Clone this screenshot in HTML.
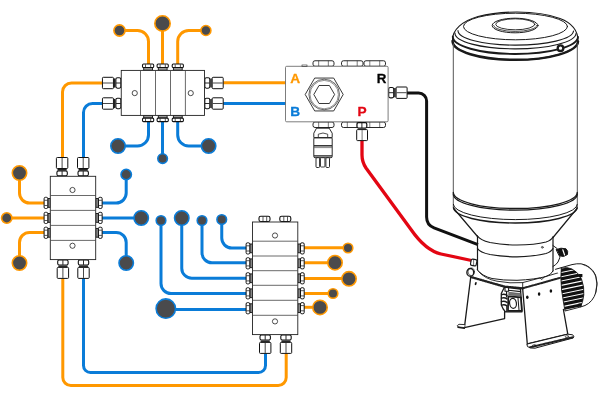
<!DOCTYPE html>
<html lang="en">
<head>
<meta charset="utf-8">
<title>Dual-line lubrication system diagram</title>
<style>
html,body{margin:0;padding:0;background:#fff;}
body{width:600px;height:400px;overflow:hidden;font-family:"Liberation Sans",sans-serif;}
svg{display:block;}
</style>
</head>
<body>
<svg width="600" height="400" viewBox="0 0 600 400" style="will-change:transform">
<rect x="0" y="0" width="600" height="400" fill="#fff"/>
<path d="M119.5 30.5 H137.5 A11 11 0 0 1 148.5 41.5 V66" stroke="#FF9800" stroke-width="3.0" fill="none"/>
<path d="M162.5 23.4 V66" stroke="#FF9800" stroke-width="3.0" fill="none"/>
<path d="M205.75 30.5 H188.7 A11 11 0 0 0 177.7 41.5 V66" stroke="#FF9800" stroke-width="3.0" fill="none"/>
<path d="M148.5 120 V135 A11 11 0 0 1 137.5 146 H118" stroke="#0A7CD8" stroke-width="3.0" fill="none"/>
<path d="M162.5 120 V158.5" stroke="#0A7CD8" stroke-width="3.0" fill="none"/>
<path d="M177.7 120 V135 A11 11 0 0 0 188.7 146 H208.6" stroke="#0A7CD8" stroke-width="3.0" fill="none"/>
<path d="M104 83 H71.5 A9 9 0 0 0 62.5 92 V158" stroke="#FF9800" stroke-width="3.0" fill="none"/>
<path d="M104 103.5 H92.5 A9 9 0 0 0 83.5 112.5 V158" stroke="#0A7CD8" stroke-width="3.0" fill="none"/>
<path d="M222 82.7 H286" stroke="#FF9800" stroke-width="3.0" fill="none"/>
<path d="M222 103.5 H286" stroke="#0A7CD8" stroke-width="3.0" fill="none"/>
<path d="M19.5 173 V193 A10 10 0 0 0 29.5 203 H45" stroke="#FF9800" stroke-width="3.0" fill="none"/>
<path d="M6.75 218 H45" stroke="#FF9800" stroke-width="3.0" fill="none"/>
<path d="M19.5 263 V242.5 A10 10 0 0 1 29.5 232.5 H45" stroke="#FF9800" stroke-width="3.0" fill="none"/>
<path d="M126.2 174.5 V193 A10 10 0 0 1 116.2 203 H100" stroke="#0A7CD8" stroke-width="3.0" fill="none"/>
<path d="M141 218 H100" stroke="#0A7CD8" stroke-width="3.0" fill="none"/>
<path d="M126.2 263 V242.5 A10 10 0 0 0 116.2 232.5 H100" stroke="#0A7CD8" stroke-width="3.0" fill="none"/>
<path d="M62.8 276 V377.5 A8 8 0 0 0 70.8 385.5 H278.2 A8 8 0 0 0 286.2 377.5 V352" stroke="#FF9800" stroke-width="3.0" fill="none"/>
<path d="M83.5 276 V365.5 A7 7 0 0 0 90.5 372.5 H258.5 A7 7 0 0 0 265.5 365.5 V352" stroke="#0A7CD8" stroke-width="3.0" fill="none"/>
<path d="M221.75 219.5 V238 A10 10 0 0 0 231.75 248 H248" stroke="#0A7CD8" stroke-width="3.0" fill="none"/>
<path d="M202 220.5 V252.8 A10 10 0 0 0 212 262.8 H248" stroke="#0A7CD8" stroke-width="3.0" fill="none"/>
<path d="M181.75 218 V268.2 A10 10 0 0 0 191.75 278.2 H248" stroke="#0A7CD8" stroke-width="3.0" fill="none"/>
<path d="M161 220.5 V283.5 A10 10 0 0 0 171 293.5 H248" stroke="#0A7CD8" stroke-width="3.0" fill="none"/>
<path d="M166 309.4 H248" stroke="#0A7CD8" stroke-width="3.0" fill="none"/>
<path d="M302 247.8 H348" stroke="#FF9800" stroke-width="3.0" fill="none"/>
<path d="M302 262.7 H335" stroke="#FF9800" stroke-width="3.0" fill="none"/>
<path d="M302 278.5 H348.75" stroke="#FF9800" stroke-width="3.0" fill="none"/>
<path d="M302 293.5 H333" stroke="#FF9800" stroke-width="3.0" fill="none"/>
<path d="M302 307.3 H320" stroke="#FF9800" stroke-width="3.0" fill="none"/>
<path d="M362 138 V155 Q362 162 366 168 L411 229.5 C419 241 428 251 441 254 L471.5 260.5" stroke="#E30613" stroke-width="3.3" fill="none"/>
<path d="M405 93 H418.6 A8 8 0 0 1 426.6 101 V217 Q426.6 225 434 227.8 L478 244.6" stroke="#111111" stroke-width="3.0" fill="none"/>
<circle cx="119.5" cy="30.5" r="5.6000000000000005" fill="#4a4a4c" stroke="#FF9800" stroke-width="1.6"/>
<circle cx="162.5" cy="23.4" r="7.7" fill="#4a4a4c" stroke="#FF9800" stroke-width="1.6"/>
<circle cx="205.9" cy="30.5" r="5.0" fill="#4a4a4c" stroke="#FF9800" stroke-width="1.6"/>
<circle cx="118" cy="146" r="7.2" fill="#4a4a4c" stroke="#0A7CD8" stroke-width="1.6"/>
<circle cx="162.6" cy="158.6" r="4.8" fill="#4a4a4c" stroke="#0A7CD8" stroke-width="1.6"/>
<circle cx="208.6" cy="146" r="7.2" fill="#4a4a4c" stroke="#0A7CD8" stroke-width="1.6"/>
<circle cx="19.5" cy="173" r="7.2" fill="#4a4a4c" stroke="#FF9800" stroke-width="1.6"/>
<circle cx="6.75" cy="218" r="5.2" fill="#4a4a4c" stroke="#FF9800" stroke-width="1.6"/>
<circle cx="19.5" cy="263" r="7.2" fill="#4a4a4c" stroke="#FF9800" stroke-width="1.6"/>
<circle cx="126.2" cy="174.5" r="5.2" fill="#4a4a4c" stroke="#0A7CD8" stroke-width="1.6"/>
<circle cx="141.2" cy="218" r="7.2" fill="#4a4a4c" stroke="#0A7CD8" stroke-width="1.6"/>
<circle cx="126.2" cy="263" r="7.2" fill="#4a4a4c" stroke="#0A7CD8" stroke-width="1.6"/>
<circle cx="221.75" cy="219.5" r="4.8" fill="#4a4a4c" stroke="#0A7CD8" stroke-width="1.6"/>
<circle cx="202" cy="220.5" r="4.8" fill="#4a4a4c" stroke="#0A7CD8" stroke-width="1.6"/>
<circle cx="181.75" cy="218" r="7.2" fill="#4a4a4c" stroke="#0A7CD8" stroke-width="1.6"/>
<circle cx="161" cy="220.5" r="4.8" fill="#4a4a4c" stroke="#0A7CD8" stroke-width="1.6"/>
<circle cx="165.8" cy="308.6" r="9.7" fill="#4a4a4c" stroke="#0A7CD8" stroke-width="1.6"/>
<circle cx="348" cy="248" r="4.8" fill="#4a4a4c" stroke="#FF9800" stroke-width="1.6"/>
<circle cx="335" cy="262.7" r="7.2" fill="#4a4a4c" stroke="#FF9800" stroke-width="1.6"/>
<circle cx="349" cy="278.8" r="7.2" fill="#4a4a4c" stroke="#FF9800" stroke-width="1.6"/>
<circle cx="333" cy="293.5" r="4.8" fill="#4a4a4c" stroke="#FF9800" stroke-width="1.6"/>
<circle cx="320" cy="307.4" r="7.2" fill="#4a4a4c" stroke="#FF9800" stroke-width="1.6"/>
<rect x="143.7" y="67.55" width="8.8" height="2.7" rx="0" fill="#999" stroke="#111" stroke-width="0.9"/>
<rect x="142.5" y="64.05" width="11.2" height="3.5" rx="1.1" fill="#fff" stroke="#111" stroke-width="1.1"/>
<line x1="145.5" y1="64.35" x2="145.5" y2="67.25" stroke="#111" stroke-width="0.7"/>
<line x1="150.7" y1="64.35" x2="150.7" y2="67.25" stroke="#111" stroke-width="0.7"/>
<rect x="143.7" y="115.4" width="8.8" height="2.7" rx="0" fill="#999" stroke="#111" stroke-width="0.9"/>
<rect x="142.5" y="118.10000000000001" width="11.2" height="3.5" rx="1.1" fill="#fff" stroke="#111" stroke-width="1.1"/>
<line x1="145.5" y1="118.4" x2="145.5" y2="121.30000000000001" stroke="#111" stroke-width="0.7"/>
<line x1="150.7" y1="118.4" x2="150.7" y2="121.30000000000001" stroke="#111" stroke-width="0.7"/>
<rect x="158.29999999999998" y="67.55" width="8.8" height="2.7" rx="0" fill="#999" stroke="#111" stroke-width="0.9"/>
<rect x="157.1" y="64.05" width="11.2" height="3.5" rx="1.1" fill="#fff" stroke="#111" stroke-width="1.1"/>
<line x1="160.1" y1="64.35" x2="160.1" y2="67.25" stroke="#111" stroke-width="0.7"/>
<line x1="165.29999999999998" y1="64.35" x2="165.29999999999998" y2="67.25" stroke="#111" stroke-width="0.7"/>
<rect x="158.29999999999998" y="115.4" width="8.8" height="2.7" rx="0" fill="#999" stroke="#111" stroke-width="0.9"/>
<rect x="157.1" y="118.10000000000001" width="11.2" height="3.5" rx="1.1" fill="#fff" stroke="#111" stroke-width="1.1"/>
<line x1="160.1" y1="118.4" x2="160.1" y2="121.30000000000001" stroke="#111" stroke-width="0.7"/>
<line x1="165.29999999999998" y1="118.4" x2="165.29999999999998" y2="121.30000000000001" stroke="#111" stroke-width="0.7"/>
<rect x="173.4" y="67.55" width="8.8" height="2.7" rx="0" fill="#999" stroke="#111" stroke-width="0.9"/>
<rect x="172.20000000000002" y="64.05" width="11.2" height="3.5" rx="1.1" fill="#fff" stroke="#111" stroke-width="1.1"/>
<line x1="175.20000000000002" y1="64.35" x2="175.20000000000002" y2="67.25" stroke="#111" stroke-width="0.7"/>
<line x1="180.4" y1="64.35" x2="180.4" y2="67.25" stroke="#111" stroke-width="0.7"/>
<rect x="173.4" y="115.4" width="8.8" height="2.7" rx="0" fill="#999" stroke="#111" stroke-width="0.9"/>
<rect x="172.20000000000002" y="118.10000000000001" width="11.2" height="3.5" rx="1.1" fill="#fff" stroke="#111" stroke-width="1.1"/>
<line x1="175.20000000000002" y1="118.4" x2="175.20000000000002" y2="121.30000000000001" stroke="#111" stroke-width="0.7"/>
<line x1="180.4" y1="118.4" x2="180.4" y2="121.30000000000001" stroke="#111" stroke-width="0.7"/>
<rect x="115.85" y="77.8" width="5.0" height="10.4" rx="1.6" fill="#fff" stroke="#111" stroke-width="1.1"/>
<line x1="120.65" y1="83" x2="116.05" y2="83" stroke="#111" stroke-width="0.9"/>
<line x1="114.65" y1="78.4" x2="114.65" y2="87.6" stroke="#222" stroke-width="1.5"/>
<rect x="102.45" y="77.3" width="11.0" height="11.4" rx="0.9" fill="#fff" stroke="#111" stroke-width="1.0"/>
<line x1="102.95" y1="83" x2="112.95" y2="83" stroke="#333" stroke-width="0.9"/>
<rect x="204.8" y="77.8" width="5.0" height="10.4" rx="1.6" fill="#fff" stroke="#111" stroke-width="1.1"/>
<line x1="205.0" y1="83" x2="209.6" y2="83" stroke="#111" stroke-width="0.9"/>
<line x1="211.0" y1="78.4" x2="211.0" y2="87.6" stroke="#222" stroke-width="1.5"/>
<rect x="212.20000000000002" y="77.3" width="11.0" height="11.4" rx="0.9" fill="#fff" stroke="#111" stroke-width="1.0"/>
<line x1="212.70000000000002" y1="83" x2="222.70000000000002" y2="83" stroke="#333" stroke-width="0.9"/>
<rect x="115.85" y="98.3" width="5.0" height="10.4" rx="1.6" fill="#fff" stroke="#111" stroke-width="1.1"/>
<line x1="120.65" y1="103.5" x2="116.05" y2="103.5" stroke="#111" stroke-width="0.9"/>
<line x1="114.65" y1="98.9" x2="114.65" y2="108.1" stroke="#222" stroke-width="1.5"/>
<rect x="102.45" y="97.8" width="11.0" height="11.4" rx="0.9" fill="#fff" stroke="#111" stroke-width="1.0"/>
<line x1="102.95" y1="103.5" x2="112.95" y2="103.5" stroke="#333" stroke-width="0.9"/>
<rect x="204.8" y="98.3" width="5.0" height="10.4" rx="1.6" fill="#fff" stroke="#111" stroke-width="1.1"/>
<line x1="205.0" y1="103.5" x2="209.6" y2="103.5" stroke="#111" stroke-width="0.9"/>
<line x1="211.0" y1="98.9" x2="211.0" y2="108.1" stroke="#222" stroke-width="1.5"/>
<rect x="212.20000000000002" y="97.8" width="11.0" height="11.4" rx="0.9" fill="#fff" stroke="#111" stroke-width="1.0"/>
<line x1="212.70000000000002" y1="103.5" x2="222.70000000000002" y2="103.5" stroke="#333" stroke-width="0.9"/>
<rect x="121.25" y="70.4" width="83.2" height="45.0" rx="0" fill="#fff" stroke="#222" stroke-width="0.9"/>
<line x1="140.5" y1="70.4" x2="140.5" y2="115.4" stroke="#444" stroke-width="0.8"/>
<line x1="155.5" y1="70.4" x2="155.5" y2="115.4" stroke="#444" stroke-width="0.8"/>
<line x1="170.5" y1="70.4" x2="170.5" y2="115.4" stroke="#444" stroke-width="0.8"/>
<line x1="185.4" y1="70.4" x2="185.4" y2="115.4" stroke="#444" stroke-width="0.8"/>
<circle cx="134.75" cy="93.1" r="2.6" fill="#fff" stroke="#222" stroke-width="0.8"/>
<circle cx="190.75" cy="93.1" r="2.6" fill="#fff" stroke="#222" stroke-width="0.8"/>
<rect x="56.9" y="170.9" width="10.4" height="5.0" rx="1.6" fill="#fff" stroke="#111" stroke-width="1.1"/>
<line x1="62.1" y1="175.70000000000002" x2="62.1" y2="171.10000000000002" stroke="#111" stroke-width="0.9"/>
<line x1="57.5" y1="169.70000000000002" x2="66.7" y2="169.70000000000002" stroke="#222" stroke-width="1.5"/>
<rect x="56.4" y="157.5" width="11.4" height="11.0" rx="0.9" fill="#fff" stroke="#111" stroke-width="1.0"/>
<line x1="62.1" y1="158.0" x2="62.1" y2="168.0" stroke="#333" stroke-width="0.9"/>
<rect x="78.0" y="170.9" width="10.4" height="5.0" rx="1.6" fill="#fff" stroke="#111" stroke-width="1.1"/>
<line x1="83.2" y1="175.70000000000002" x2="83.2" y2="171.10000000000002" stroke="#111" stroke-width="0.9"/>
<line x1="78.60000000000001" y1="169.70000000000002" x2="87.8" y2="169.70000000000002" stroke="#222" stroke-width="1.5"/>
<rect x="77.5" y="157.5" width="11.4" height="11.0" rx="0.9" fill="#fff" stroke="#111" stroke-width="1.0"/>
<line x1="83.2" y1="158.0" x2="83.2" y2="168.0" stroke="#333" stroke-width="0.9"/>
<rect x="57.699999999999996" y="260.0" width="10.4" height="5.0" rx="1.6" fill="#fff" stroke="#111" stroke-width="1.1"/>
<line x1="62.9" y1="260.20000000000005" x2="62.9" y2="264.8" stroke="#111" stroke-width="0.9"/>
<line x1="58.3" y1="266.20000000000005" x2="67.5" y2="266.20000000000005" stroke="#222" stroke-width="1.5"/>
<rect x="57.199999999999996" y="267.40000000000003" width="11.4" height="11.0" rx="0.9" fill="#fff" stroke="#111" stroke-width="1.0"/>
<line x1="62.9" y1="267.90000000000003" x2="62.9" y2="277.90000000000003" stroke="#333" stroke-width="0.9"/>
<rect x="78.3" y="260.0" width="10.4" height="5.0" rx="1.6" fill="#fff" stroke="#111" stroke-width="1.1"/>
<line x1="83.5" y1="260.20000000000005" x2="83.5" y2="264.8" stroke="#111" stroke-width="0.9"/>
<line x1="78.9" y1="266.20000000000005" x2="88.1" y2="266.20000000000005" stroke="#222" stroke-width="1.5"/>
<rect x="77.8" y="267.40000000000003" width="11.4" height="11.0" rx="0.9" fill="#fff" stroke="#111" stroke-width="1.0"/>
<line x1="83.5" y1="267.90000000000003" x2="83.5" y2="277.90000000000003" stroke="#333" stroke-width="0.9"/>
<rect x="47.8" y="198.5" width="2.7" height="8.8" rx="0" fill="#888" stroke="#111" stroke-width="0.9"/>
<rect x="44.099999999999994" y="197.3" width="3.7" height="11.2" rx="1.4" fill="#fff" stroke="#111" stroke-width="1.0"/>
<line x1="44.39999999999999" y1="200.3" x2="47.49999999999999" y2="200.3" stroke="#111" stroke-width="0.7"/>
<line x1="44.39999999999999" y1="205.5" x2="47.49999999999999" y2="205.5" stroke="#111" stroke-width="0.7"/>
<rect x="95.75" y="198.5" width="2.7" height="8.8" rx="0" fill="#888" stroke="#111" stroke-width="0.9"/>
<rect x="98.45" y="197.3" width="3.7" height="11.2" rx="1.4" fill="#fff" stroke="#111" stroke-width="1.0"/>
<line x1="98.75" y1="200.3" x2="101.85000000000001" y2="200.3" stroke="#111" stroke-width="0.7"/>
<line x1="98.75" y1="205.5" x2="101.85000000000001" y2="205.5" stroke="#111" stroke-width="0.7"/>
<rect x="47.8" y="213.5" width="2.7" height="8.8" rx="0" fill="#888" stroke="#111" stroke-width="0.9"/>
<rect x="44.099999999999994" y="212.3" width="3.7" height="11.2" rx="1.4" fill="#fff" stroke="#111" stroke-width="1.0"/>
<line x1="44.39999999999999" y1="215.3" x2="47.49999999999999" y2="215.3" stroke="#111" stroke-width="0.7"/>
<line x1="44.39999999999999" y1="220.5" x2="47.49999999999999" y2="220.5" stroke="#111" stroke-width="0.7"/>
<rect x="95.75" y="213.5" width="2.7" height="8.8" rx="0" fill="#888" stroke="#111" stroke-width="0.9"/>
<rect x="98.45" y="212.3" width="3.7" height="11.2" rx="1.4" fill="#fff" stroke="#111" stroke-width="1.0"/>
<line x1="98.75" y1="215.3" x2="101.85000000000001" y2="215.3" stroke="#111" stroke-width="0.7"/>
<line x1="98.75" y1="220.5" x2="101.85000000000001" y2="220.5" stroke="#111" stroke-width="0.7"/>
<rect x="47.8" y="228.4" width="2.7" height="8.8" rx="0" fill="#888" stroke="#111" stroke-width="0.9"/>
<rect x="44.099999999999994" y="227.20000000000002" width="3.7" height="11.2" rx="1.4" fill="#fff" stroke="#111" stroke-width="1.0"/>
<line x1="44.39999999999999" y1="230.20000000000002" x2="47.49999999999999" y2="230.20000000000002" stroke="#111" stroke-width="0.7"/>
<line x1="44.39999999999999" y1="235.4" x2="47.49999999999999" y2="235.4" stroke="#111" stroke-width="0.7"/>
<rect x="95.75" y="228.4" width="2.7" height="8.8" rx="0" fill="#888" stroke="#111" stroke-width="0.9"/>
<rect x="98.45" y="227.20000000000002" width="3.7" height="11.2" rx="1.4" fill="#fff" stroke="#111" stroke-width="1.0"/>
<line x1="98.75" y1="230.20000000000002" x2="101.85000000000001" y2="230.20000000000002" stroke="#111" stroke-width="0.7"/>
<line x1="98.75" y1="235.4" x2="101.85000000000001" y2="235.4" stroke="#111" stroke-width="0.7"/>
<rect x="50.3" y="176.3" width="45.4" height="83.3" rx="0" fill="#fff" stroke="#222" stroke-width="0.9"/>
<line x1="50.5" y1="195.5" x2="95.75" y2="195.5" stroke="#444" stroke-width="0.8"/>
<line x1="50.5" y1="210.4" x2="95.75" y2="210.4" stroke="#444" stroke-width="0.8"/>
<line x1="50.5" y1="225.4" x2="95.75" y2="225.4" stroke="#444" stroke-width="0.8"/>
<line x1="50.5" y1="240.4" x2="95.75" y2="240.4" stroke="#444" stroke-width="0.8"/>
<circle cx="72.5" cy="190" r="2.6" fill="#fff" stroke="#222" stroke-width="0.8"/>
<circle cx="72.5" cy="245.75" r="2.6" fill="#fff" stroke="#222" stroke-width="0.8"/>
<rect x="259.0" y="216.3" width="11" height="5.2" rx="1.8" fill="#fff" stroke="#111" stroke-width="1.1"/>
<line x1="263.0" y1="216.6" x2="263.0" y2="221.2" stroke="#111" stroke-width="0.7"/>
<line x1="266.7" y1="216.6" x2="266.7" y2="221.2" stroke="#111" stroke-width="0.7"/>
<rect x="279.8" y="216.3" width="11" height="5.2" rx="1.8" fill="#fff" stroke="#111" stroke-width="1.1"/>
<line x1="283.8" y1="216.6" x2="283.8" y2="221.2" stroke="#111" stroke-width="0.7"/>
<line x1="287.5" y1="216.6" x2="287.5" y2="221.2" stroke="#111" stroke-width="0.7"/>
<rect x="260.0" y="335.0" width="10.4" height="5.0" rx="1.6" fill="#fff" stroke="#111" stroke-width="1.1"/>
<line x1="265.2" y1="335.20000000000005" x2="265.2" y2="339.8" stroke="#111" stroke-width="0.9"/>
<line x1="260.59999999999997" y1="341.20000000000005" x2="269.8" y2="341.20000000000005" stroke="#222" stroke-width="1.5"/>
<rect x="259.5" y="342.40000000000003" width="11.4" height="11.0" rx="0.9" fill="#fff" stroke="#111" stroke-width="1.0"/>
<line x1="265.2" y1="342.90000000000003" x2="265.2" y2="352.90000000000003" stroke="#333" stroke-width="0.9"/>
<rect x="280.8" y="335.0" width="10.4" height="5.0" rx="1.6" fill="#fff" stroke="#111" stroke-width="1.1"/>
<line x1="286" y1="335.20000000000005" x2="286" y2="339.8" stroke="#111" stroke-width="0.9"/>
<line x1="281.4" y1="341.20000000000005" x2="290.6" y2="341.20000000000005" stroke="#222" stroke-width="1.5"/>
<rect x="280.3" y="342.40000000000003" width="11.4" height="11.0" rx="0.9" fill="#fff" stroke="#111" stroke-width="1.0"/>
<line x1="286" y1="342.90000000000003" x2="286" y2="352.90000000000003" stroke="#333" stroke-width="0.9"/>
<rect x="249.8" y="244.0" width="2.7" height="8.8" rx="0" fill="#888" stroke="#111" stroke-width="0.9"/>
<rect x="246.10000000000002" y="242.8" width="3.7" height="11.2" rx="1.4" fill="#fff" stroke="#111" stroke-width="1.0"/>
<line x1="246.40000000000003" y1="245.8" x2="249.50000000000003" y2="245.8" stroke="#111" stroke-width="0.7"/>
<line x1="246.40000000000003" y1="251.0" x2="249.50000000000003" y2="251.0" stroke="#111" stroke-width="0.7"/>
<rect x="297.8" y="244.0" width="2.7" height="8.8" rx="0" fill="#888" stroke="#111" stroke-width="0.9"/>
<rect x="300.5" y="242.8" width="3.7" height="11.2" rx="1.4" fill="#fff" stroke="#111" stroke-width="1.0"/>
<line x1="300.8" y1="245.8" x2="303.9" y2="245.8" stroke="#111" stroke-width="0.7"/>
<line x1="300.8" y1="251.0" x2="303.9" y2="251.0" stroke="#111" stroke-width="0.7"/>
<rect x="249.8" y="258.90000000000003" width="2.7" height="8.8" rx="0" fill="#888" stroke="#111" stroke-width="0.9"/>
<rect x="246.10000000000002" y="257.7" width="3.7" height="11.2" rx="1.4" fill="#fff" stroke="#111" stroke-width="1.0"/>
<line x1="246.40000000000003" y1="260.7" x2="249.50000000000003" y2="260.7" stroke="#111" stroke-width="0.7"/>
<line x1="246.40000000000003" y1="265.90000000000003" x2="249.50000000000003" y2="265.90000000000003" stroke="#111" stroke-width="0.7"/>
<rect x="297.8" y="258.90000000000003" width="2.7" height="8.8" rx="0" fill="#888" stroke="#111" stroke-width="0.9"/>
<rect x="300.5" y="257.7" width="3.7" height="11.2" rx="1.4" fill="#fff" stroke="#111" stroke-width="1.0"/>
<line x1="300.8" y1="260.7" x2="303.9" y2="260.7" stroke="#111" stroke-width="0.7"/>
<line x1="300.8" y1="265.90000000000003" x2="303.9" y2="265.90000000000003" stroke="#111" stroke-width="0.7"/>
<rect x="249.8" y="273.90000000000003" width="2.7" height="8.8" rx="0" fill="#888" stroke="#111" stroke-width="0.9"/>
<rect x="246.10000000000002" y="272.7" width="3.7" height="11.2" rx="1.4" fill="#fff" stroke="#111" stroke-width="1.0"/>
<line x1="246.40000000000003" y1="275.7" x2="249.50000000000003" y2="275.7" stroke="#111" stroke-width="0.7"/>
<line x1="246.40000000000003" y1="280.90000000000003" x2="249.50000000000003" y2="280.90000000000003" stroke="#111" stroke-width="0.7"/>
<rect x="297.8" y="273.90000000000003" width="2.7" height="8.8" rx="0" fill="#888" stroke="#111" stroke-width="0.9"/>
<rect x="300.5" y="272.7" width="3.7" height="11.2" rx="1.4" fill="#fff" stroke="#111" stroke-width="1.0"/>
<line x1="300.8" y1="275.7" x2="303.9" y2="275.7" stroke="#111" stroke-width="0.7"/>
<line x1="300.8" y1="280.90000000000003" x2="303.9" y2="280.90000000000003" stroke="#111" stroke-width="0.7"/>
<rect x="249.8" y="288.90000000000003" width="2.7" height="8.8" rx="0" fill="#888" stroke="#111" stroke-width="0.9"/>
<rect x="246.10000000000002" y="287.7" width="3.7" height="11.2" rx="1.4" fill="#fff" stroke="#111" stroke-width="1.0"/>
<line x1="246.40000000000003" y1="290.7" x2="249.50000000000003" y2="290.7" stroke="#111" stroke-width="0.7"/>
<line x1="246.40000000000003" y1="295.90000000000003" x2="249.50000000000003" y2="295.90000000000003" stroke="#111" stroke-width="0.7"/>
<rect x="297.8" y="288.90000000000003" width="2.7" height="8.8" rx="0" fill="#888" stroke="#111" stroke-width="0.9"/>
<rect x="300.5" y="287.7" width="3.7" height="11.2" rx="1.4" fill="#fff" stroke="#111" stroke-width="1.0"/>
<line x1="300.8" y1="290.7" x2="303.9" y2="290.7" stroke="#111" stroke-width="0.7"/>
<line x1="300.8" y1="295.90000000000003" x2="303.9" y2="295.90000000000003" stroke="#111" stroke-width="0.7"/>
<rect x="249.8" y="303.8" width="2.7" height="8.8" rx="0" fill="#888" stroke="#111" stroke-width="0.9"/>
<rect x="246.10000000000002" y="302.59999999999997" width="3.7" height="11.2" rx="1.4" fill="#fff" stroke="#111" stroke-width="1.0"/>
<line x1="246.40000000000003" y1="305.59999999999997" x2="249.50000000000003" y2="305.59999999999997" stroke="#111" stroke-width="0.7"/>
<line x1="246.40000000000003" y1="310.8" x2="249.50000000000003" y2="310.8" stroke="#111" stroke-width="0.7"/>
<rect x="297.8" y="303.8" width="2.7" height="8.8" rx="0" fill="#888" stroke="#111" stroke-width="0.9"/>
<rect x="300.5" y="302.59999999999997" width="3.7" height="11.2" rx="1.4" fill="#fff" stroke="#111" stroke-width="1.0"/>
<line x1="300.8" y1="305.59999999999997" x2="303.9" y2="305.59999999999997" stroke="#111" stroke-width="0.7"/>
<line x1="300.8" y1="310.8" x2="303.9" y2="310.8" stroke="#111" stroke-width="0.7"/>
<rect x="252.5" y="222" width="45.3" height="112.6" rx="0" fill="#fff" stroke="#222" stroke-width="0.9"/>
<line x1="252.5" y1="241.2" x2="297.8" y2="241.2" stroke="#444" stroke-width="0.8"/>
<line x1="252.5" y1="256" x2="297.8" y2="256" stroke="#444" stroke-width="0.8"/>
<line x1="252.5" y1="270.7" x2="297.8" y2="270.7" stroke="#444" stroke-width="0.8"/>
<line x1="252.5" y1="285.3" x2="297.8" y2="285.3" stroke="#444" stroke-width="0.8"/>
<line x1="252.5" y1="300.3" x2="297.8" y2="300.3" stroke="#444" stroke-width="0.8"/>
<line x1="252.5" y1="315.3" x2="297.8" y2="315.3" stroke="#444" stroke-width="0.8"/>
<circle cx="275" cy="235.5" r="2.6" fill="#fff" stroke="#222" stroke-width="0.8"/>
<circle cx="275" cy="321.4" r="2.6" fill="#fff" stroke="#222" stroke-width="0.8"/>
<rect x="313" y="60.75" width="21" height="5.5" rx="2" fill="#fff" stroke="#111" stroke-width="0.9"/>
<line x1="318.67" y1="60.75" x2="318.67" y2="66.25" stroke="#222" stroke-width="0.6"/>
<line x1="328.33" y1="60.75" x2="328.33" y2="66.25" stroke="#222" stroke-width="0.6"/>
<rect x="313" y="122" width="21" height="5.5" rx="2" fill="#fff" stroke="#111" stroke-width="0.9"/>
<line x1="318.67" y1="122" x2="318.67" y2="127.5" stroke="#222" stroke-width="0.6"/>
<line x1="328.33" y1="122" x2="328.33" y2="127.5" stroke="#222" stroke-width="0.6"/>
<rect x="341.5" y="60.75" width="21.5" height="5.5" rx="2" fill="#fff" stroke="#111" stroke-width="0.9"/>
<line x1="347.305" y1="60.75" x2="347.305" y2="66.25" stroke="#222" stroke-width="0.6"/>
<line x1="357.195" y1="60.75" x2="357.195" y2="66.25" stroke="#222" stroke-width="0.6"/>
<rect x="341.5" y="122" width="21.5" height="5.5" rx="2" fill="#fff" stroke="#111" stroke-width="0.9"/>
<line x1="347.305" y1="122" x2="347.305" y2="127.5" stroke="#222" stroke-width="0.6"/>
<line x1="357.195" y1="122" x2="357.195" y2="127.5" stroke="#222" stroke-width="0.6"/>
<rect x="364" y="60.75" width="21.5" height="5.5" rx="2" fill="#fff" stroke="#111" stroke-width="0.9"/>
<line x1="369.805" y1="60.75" x2="369.805" y2="66.25" stroke="#222" stroke-width="0.6"/>
<line x1="379.695" y1="60.75" x2="379.695" y2="66.25" stroke="#222" stroke-width="0.6"/>
<rect x="364" y="122" width="21.5" height="5.5" rx="2" fill="#fff" stroke="#111" stroke-width="0.9"/>
<line x1="369.805" y1="122" x2="369.805" y2="127.5" stroke="#222" stroke-width="0.6"/>
<line x1="379.695" y1="122" x2="379.695" y2="127.5" stroke="#222" stroke-width="0.6"/>
<rect x="388.7" y="87.5" width="5.0" height="10.4" rx="1.6" fill="#fff" stroke="#111" stroke-width="1.1"/>
<line x1="388.90000000000003" y1="92.7" x2="393.5" y2="92.7" stroke="#111" stroke-width="0.9"/>
<line x1="394.90000000000003" y1="88.10000000000001" x2="394.90000000000003" y2="97.3" stroke="#222" stroke-width="1.5"/>
<rect x="396.1" y="87.0" width="11.0" height="11.4" rx="0.9" fill="#fff" stroke="#111" stroke-width="1.0"/>
<line x1="396.6" y1="92.7" x2="406.6" y2="92.7" stroke="#333" stroke-width="0.9"/>
<path d="M316.5 128.2 H329.2 L332.2 133.2 V137.5 H313.8 V133.2 Z" fill="#fff" stroke="#111" stroke-width="0.9"/>
<path d="M318.3 137.3 V134.2 Q323 131.8 327.7 134.2 V137.3" fill="none" stroke="#222" stroke-width="0.8"/>
<rect x="313.8" y="137.5" width="18.4" height="20.2" rx="1.2" fill="#fff" stroke="#111" stroke-width="0.9"/>
<line x1="314" y1="138.2" x2="332" y2="138.2" stroke="#555" stroke-width="0.8"/>
<line x1="314" y1="145.8" x2="332" y2="145.8" stroke="#222" stroke-width="1.4"/>
<line x1="314" y1="147.6" x2="332" y2="147.6" stroke="#555" stroke-width="0.7"/>
<line x1="314" y1="155.9" x2="332" y2="155.9" stroke="#222" stroke-width="1.3"/>
<rect x="320.5" y="157.7" width="4.4" height="9.3" rx="0.8" fill="#fff" stroke="#111" stroke-width="0.8"/>
<rect x="316.0" y="157.7" width="3.6" height="9.8" rx="1" fill="#fff" stroke="#111" stroke-width="0.9"/>
<rect x="325.9" y="157.7" width="3.6" height="9.8" rx="1" fill="#fff" stroke="#111" stroke-width="0.9"/>
<rect x="285.5" y="66.3" width="102.6" height="55.5" rx="1.2" fill="#fff" stroke="#666" stroke-width="0.85"/>
<rect x="302" y="65" width="5" height="1.3" rx="0" fill="#fff" stroke="#222" stroke-width="0.6"/>
<rect x="357" y="122.7" width="9.8" height="5.4" rx="1.5" fill="#fff" stroke="#111" stroke-width="1.2"/>
<line x1="361.9" y1="123" x2="361.9" y2="128" stroke="#111" stroke-width="0.9"/>
<line x1="358" y1="129" x2="366" y2="129" stroke="#444" stroke-width="0.9"/>
<rect x="356.7" y="129.6" width="10.8" height="11" rx="0.8" fill="#fff" stroke="#111" stroke-width="1.0"/>
<line x1="362.1" y1="130" x2="362.1" y2="140.3" stroke="#555" stroke-width="0.8"/>
<polygon points="343.20,94.50 333.70,110.95 314.70,110.95 305.20,94.50 314.70,78.05 333.70,78.05" fill="#fff" stroke="#222" stroke-width="0.9"/>
<circle cx="324.2" cy="94.5" r="15.3" fill="#fff" stroke="#222" stroke-width="0.7"/>
<circle cx="324.2" cy="94.6" r="14.2" fill="#fff" stroke="#222" stroke-width="0.5"/>
<polygon points="334.60,94.50 329.40,103.51 319.00,103.51 313.80,94.50 319.00,85.49 329.40,85.49" fill="#fff" stroke="#222" stroke-width="0.9"/>
<text x="295.2" y="83.4" fill="#FF9800" font-family="Liberation Sans, sans-serif" font-weight="bold" font-size="13.7" stroke="#FF9800" stroke-width="0.3" stroke-linejoin="round" text-anchor="middle">A</text>
<text x="295.2" y="115.9" fill="#0A7CD8" font-family="Liberation Sans, sans-serif" font-weight="bold" font-size="13.7" stroke="#0A7CD8" stroke-width="0.3" stroke-linejoin="round" text-anchor="middle">B</text>
<text x="381.6" y="82.7" fill="#000" font-family="Liberation Sans, sans-serif" font-weight="bold" font-size="13.3" stroke="#000" stroke-width="0.3" stroke-linejoin="round" text-anchor="middle">R</text>
<text x="362" y="115.9" fill="#E30613" font-family="Liberation Sans, sans-serif" font-weight="bold" font-size="13.7" stroke="#E30613" stroke-width="0.3" stroke-linejoin="round" text-anchor="middle">P</text>
<g stroke-linecap="round" stroke-linejoin="round">
<path d="M452.5 40 C452.5 30 462 21 478 16.5 C492 12.8 505 12 517 12 C532 12 548 14 560 18.5 C572 23 578 31 578 41 A62.75 19.5 0 0 1 452.5 40 Z" fill="#fff" stroke="#1a1a1a" stroke-width="1.1" />
<path d="M452.8 36.5 A62.6 17.2 0 0 0 578 37" fill="none" stroke="#1a1a1a" stroke-width="1.9" />
<path d="M452.6 41 A62.7 18.6 0 0 0 578 41.5" fill="none" stroke="#1a1a1a" stroke-width="2.5" />
<path d="M455 33 A60.5 15.6 0 0 0 576 33.5" fill="none" stroke="#1a1a1a" stroke-width="1.1" />
<path d="M458 30.5 A57.75 14.4 0 0 0 573.5 31" fill="none" stroke="#1a1a1a" stroke-width="1.1" />
<ellipse cx="515.5" cy="26.5" rx="52" ry="13.3" fill="none" stroke="#1a1a1a" stroke-width="1.0"/>
<ellipse cx="515.1" cy="25.5" rx="22.9" ry="7.3" fill="none" stroke="#1a1a1a" stroke-width="1.0"/>
<ellipse cx="515.3" cy="24.3" rx="19.6" ry="5.5" fill="none" stroke="#1a1a1a" stroke-width="0.9"/>
<path d="M493.6 25.5 A21.5 5.9 0 0 0 536.8 25.5" fill="none" stroke="#1a1a1a" stroke-width="0.8" />
<circle cx="560.5" cy="48.2" r="2.8" fill="#fff" stroke="#1a1a1a" stroke-width="2.3"/>
<path d="M453.3 44 V208 M577.3 44 V208" fill="none" stroke="#555" stroke-width="1.0" />
<path d="M453.3 192.3 A62 16.2 0 0 0 577.3 192.3" fill="none" stroke="#1a1a1a" stroke-width="1.3" />
<path d="M453.3 193.9 A62 16.2 0 0 0 577.3 193.9" fill="none" stroke="#1a1a1a" stroke-width="1.3" />
<path d="M453.3 204.4 A62 15.2 0 0 0 577.3 204.4" fill="none" stroke="#1a1a1a" stroke-width="1.0" />
<path d="M453.6 207.6 A61.7 15.4 0 0 0 577 207.6" fill="none" stroke="#1a1a1a" stroke-width="1.4" />
<path d="M453.8 208.5 L477.5 236.5 M577 208.5 L553 237.5" fill="none" stroke="#1a1a1a" stroke-width="1.2" />
<path d="M477.5 236 V270 M553 237 V271" fill="none" stroke="#1a1a1a" stroke-width="1.2" />
<path d="M477.5 236 Q480 240 490 242.5 Q503 245 517 245 Q535 245 546 242 Q551 240.5 553 237" fill="none" stroke="#1a1a1a" stroke-width="1.2" />
<path d="M477.5 248.5 Q480 252.5 490 254.5 Q503 256.8 517 256.8 Q535 256.5 546 253.5 Q551 252 553 248.5" fill="none" stroke="#1a1a1a" stroke-width="1.2" />
<circle cx="542.3" cy="247.3" r="0.9" fill="none" stroke="#1a1a1a" stroke-width="0.7"/>
<path d="M477.5 270 Q482 276 492 278.5 Q503 280.5 517 280.3 Q535 279.5 546 276.5 Q551 275 553 271" fill="none" stroke="#1a1a1a" stroke-width="1.0" />
<path d="M478.5 271.5 Q485 279 497 281.2 L510 282.8 L522.7 282.6 L540 278 L542 279.5 L544 277 L561 272" fill="none" stroke="#1a1a1a" stroke-width="0.9" />
<path d="M471 277 L505 286.8 L522.5 288.3" fill="none" stroke="#222" stroke-width="2.3" stroke-dasharray="2 0.7"/>
<path d="M522.7 288.3 L561 277.6" fill="none" stroke="#222" stroke-width="2.0" stroke-dasharray="2 0.7"/>
<path d="M522.7 282.6 V289" fill="none" stroke="#1a1a1a" stroke-width="0.9" />
<path d="M553 245.5 Q558 248 560 253 Q560.5 258 558 262 Q556 265 553 266.5" fill="none" stroke="#1a1a1a" stroke-width="1.0" />
<path d="M556.5 249.5 L561 248.2 L566 248.8 Q568.5 251 567.5 254.5 L563.5 256.5 L559.5 255.8 Z" fill="#111" stroke="#1a1a1a" stroke-width="1.0" />
<path d="M562.8 249.8 L564.6 255" fill="none" stroke="#fff" stroke-width="1.2" />
<rect x="470.8" y="259.3" width="5.8" height="6.4" rx="1.5" fill="#fff" stroke="#1a1a1a" stroke-width="1.2" transform="rotate(12 473.7 262.5)"/>
<path d="M473.6 259.5 V265.5" fill="none" stroke="#1a1a1a" stroke-width="0.6" />
<ellipse cx="470.3" cy="272.4" rx="3.4" ry="3.9" fill="#fff" stroke="#1a1a1a" stroke-width="1.4"/>
<ellipse cx="471.3" cy="271.8" rx="3.2" ry="3.8" fill="none" stroke="#1a1a1a" stroke-width="0.6"/>
<path d="M470.7 277.3 L464.4 327.6 L504.6 318.6 L504.6 311.5" fill="none" stroke="#1a1a1a" stroke-width="1.3" />
<path d="M464.4 327.6 L458.2 327 L457.3 325.6 L459 324.3 L464.8 324.6" fill="#fff" stroke="#1a1a1a" stroke-width="0.9" />
<path d="M458 327.3 L464.3 328.4" fill="none" stroke="#1a1a1a" stroke-width="1.4" />
<ellipse cx="475.7" cy="283.6" rx="0.9" ry="1.6" fill="#111" transform="rotate(20 475.7 283.6)"/>
<path d="M504.5 287.2 L520.5 289.2 L522 311.8 L505.5 311.8 L503.2 309 L501.3 305 L501.3 293.5 L503 290 Z" fill="#fff" stroke="#1a1a1a" stroke-width="1.3" />
<path d="M505 287.6 V291.2 H508.6 V288.2 M508.6 290.3 L520.6 291.6" fill="none" stroke="#1a1a1a" stroke-width="1.1" />
<path d="M509 292.3 L520.6 293.6 L520.8 296 L509 295 Z" fill="#777" stroke="#444" stroke-width="0.6" />
<path d="M508.3 296.4 L521 297.4 L521.8 310.8 L508 310.8 Z" fill="none" stroke="#1a1a1a" stroke-width="1.7" />
<ellipse cx="513" cy="303.3" rx="3.4" ry="5" fill="#fff" stroke="#1a1a1a" stroke-width="1.2" transform="rotate(-8 513 303.3)"/>
<path d="M518 298.2 L519 310" fill="none" stroke="#1a1a1a" stroke-width="1.0" />
<path d="M501.8 294.6 Q504.5 293.6 507 295.4 M501.5 298.1 Q504.5 297.1 507 298.9 M501.5 301.6 Q504.5 300.6 507 302.4 M501.8 305.1 Q504.5 304.1 507 305.9" fill="none" stroke="#1a1a1a" stroke-width="1.5" />
<path d="M506.6 291.5 V297 M506.8 306.5 V311.5" fill="none" stroke="#1a1a1a" stroke-width="1.2" />
<path d="M555.5 269.3 L572 264.6 Q577 263.4 581 263.8 Q591 265.5 595.5 275 Q598.5 283 596 292 Q593 302 585 305.5 L580.5 307" fill="#fff" stroke="#1a1a1a" stroke-width="1.0" />
<path d="M583 264.5 Q592.5 267.5 596 277 Q598 285 595.5 293" fill="none" stroke="#1a1a1a" stroke-width="0.7" />
<path d="M561.3 268 Q567 266.6 572 269 Q578 272 581.5 279 Q584.5 287 583.8 295 Q583 302 580.5 307 L565 311 Q563 300 561.6 290 Q560.3 278 561.3 268 Z" fill="#fff" stroke="#1a1a1a" stroke-width="0.9" />
<clipPath id="ribclip"><path d="M561.3 268 Q567 266.6 572 269 Q578 272 581.5 279 Q584.5 287 583.8 295 Q583 302 580.5 307 L565 311 Q563 300 561.6 290 Q560.3 278 561.3 268 Z"/></clipPath>
<g clip-path="url(#ribclip)">
<path d="M554 267.5 L590 260.0" fill="none" stroke="#111" stroke-width="3.1" />
<path d="M554 271.8 L590 264.3" fill="none" stroke="#111" stroke-width="3.1" />
<path d="M554 276.1 L590 268.6" fill="none" stroke="#111" stroke-width="3.1" />
<path d="M554 280.4 L590 272.9" fill="none" stroke="#111" stroke-width="3.1" />
<path d="M554 284.7 L590 277.2" fill="none" stroke="#111" stroke-width="3.1" />
<path d="M554 289.0 L590 281.5" fill="none" stroke="#111" stroke-width="3.1" />
<path d="M554 293.3 L590 285.8" fill="none" stroke="#111" stroke-width="3.1" />
<path d="M554 297.6 L590 290.1" fill="none" stroke="#111" stroke-width="3.1" />
<path d="M554 301.9 L590 294.4" fill="none" stroke="#111" stroke-width="3.1" />
<path d="M554 306.2 L590 298.7" fill="none" stroke="#111" stroke-width="3.1" />
<path d="M554 310.5 L590 303.0" fill="none" stroke="#111" stroke-width="3.1" />
<path d="M554 314.8 L590 307.3" fill="none" stroke="#111" stroke-width="3.1" />
<path d="M554 319.1 L590 311.6" fill="none" stroke="#111" stroke-width="3.1" />
<path d="M554 323.4 L590 315.9" fill="none" stroke="#111" stroke-width="3.1" />
</g>
<rect x="579" y="274" width="3.4" height="3.2" fill="#111"/>
<rect x="578.5" y="303.5" width="3" height="3" fill="#111"/>
<path d="M522.7 289 L527.3 344 L567.8 334.2 L563.4 309.5" fill="none" stroke="#1a1a1a" stroke-width="1.3" />
<path d="M527.3 344 L567.8 334.2 L572.7 334.8 Q574.8 336.4 573 338 L535 348.2 Q530.5 348.6 527.8 346.8 Z" fill="#fff" stroke="#1a1a1a" stroke-width="1.0" />
<path d="M530 347.3 L573 337.2" fill="none" stroke="#222" stroke-width="2.0" stroke-dasharray="1.8 0.9"/>
<ellipse cx="534" cy="345.6" rx="1.8" ry="0.9" fill="none" stroke="#1a1a1a" stroke-width="0.6" transform="rotate(-13 534 345.6)"/>
<ellipse cx="566.8" cy="336.6" rx="1.8" ry="0.9" fill="none" stroke="#1a1a1a" stroke-width="0.6" transform="rotate(-13 566.8 336.6)"/>
<ellipse cx="527.3" cy="297.2" rx="1.3" ry="1.8" fill="#111"/>
<ellipse cx="539.1" cy="294.1" rx="1.3" ry="1.8" fill="#111"/>
<ellipse cx="550.9" cy="291" rx="1.3" ry="1.8" fill="#111"/>
</g>
</svg>
</body>
</html>
